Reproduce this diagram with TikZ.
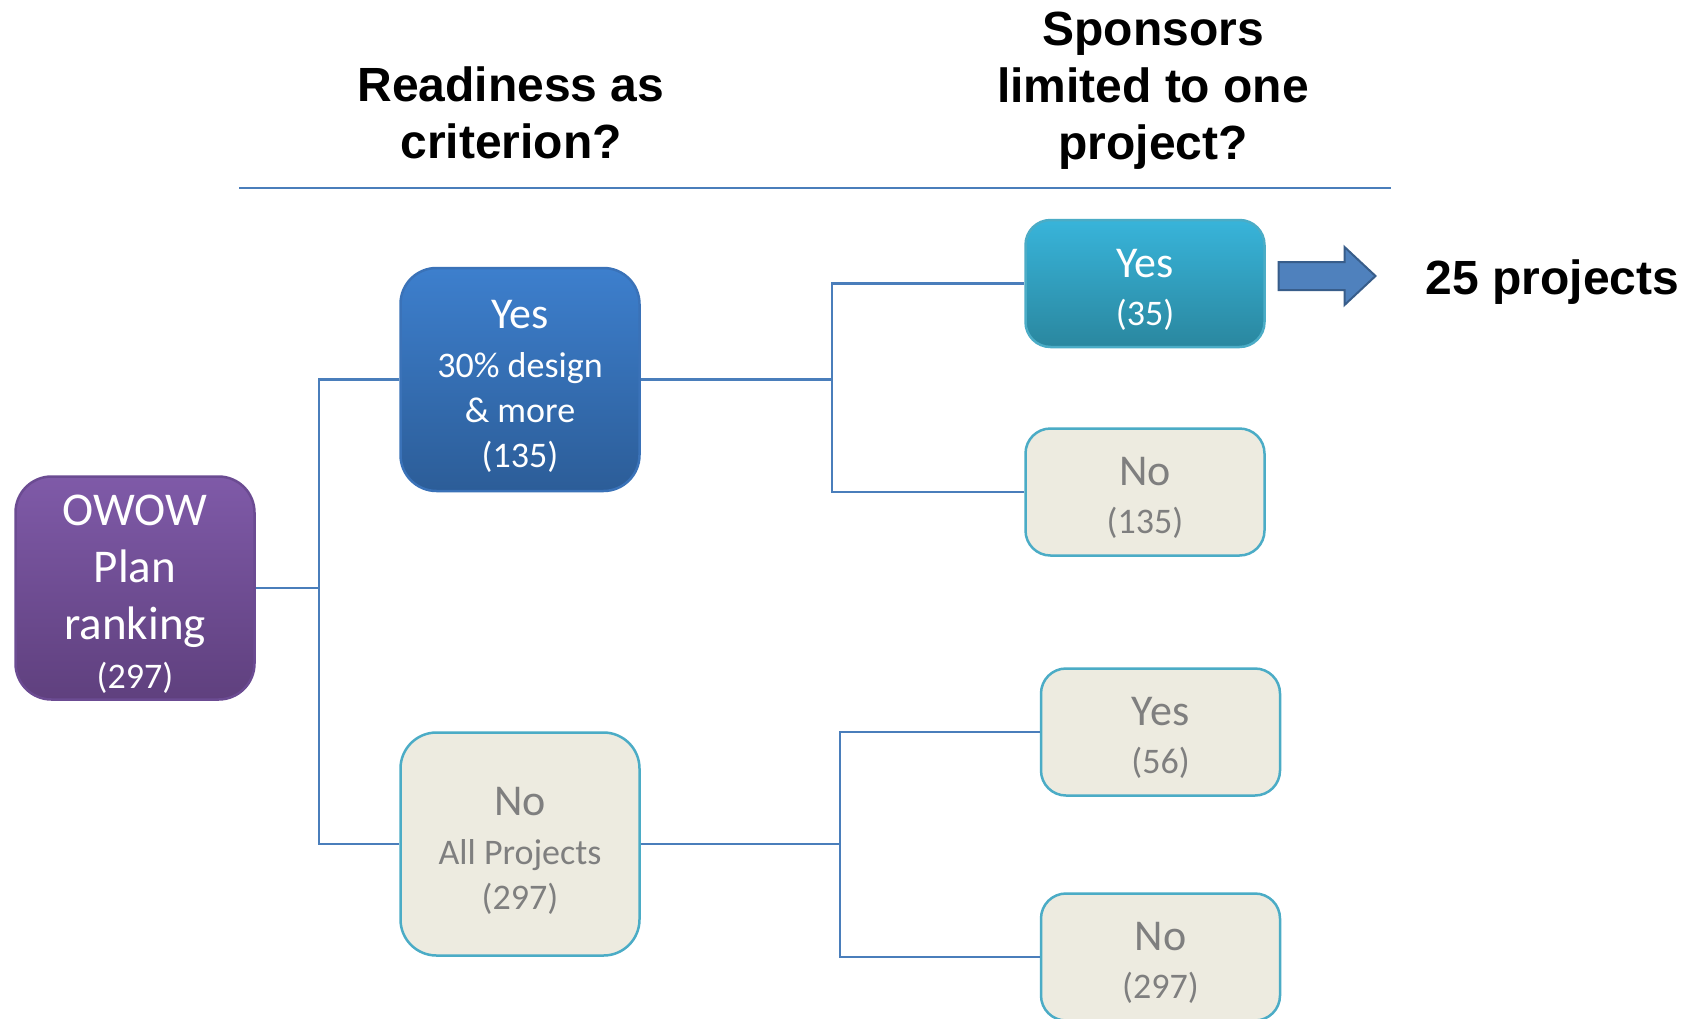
\documentclass[tikz,border=0pt]{standalone}
\usepackage{fontspec}
\setmainfont{Carlito}
\newfontfamily\hdrfont{Liberation Sans}
\definecolor{connBlue}{HTML}{4A7EBB}
\definecolor{purpTop}{HTML}{7F5AA8}
\definecolor{purpBot}{HTML}{5F407E}
\definecolor{purpEdge}{HTML}{6B4B92}
\definecolor{blueTop}{HTML}{3D7FCD}
\definecolor{blueBot}{HTML}{2C5D98}
\definecolor{blueEdge}{HTML}{3A72B8}
\definecolor{cyanTop}{HTML}{38B4DA}
\definecolor{cyanBot}{HTML}{2A879F}
\definecolor{paleFill}{HTML}{EDEBE0}
\definecolor{paleEdge}{HTML}{4BACC6}
\definecolor{paleText}{HTML}{7F7F7F}
\definecolor{arrFill}{HTML}{4F81BD}
\definecolor{arrEdge}{HTML}{385D8A}
\newcommand\bxL{\fontsize{44}{52}\selectfont}
\newcommand\bxS{\fontsize{36}{45}\selectfont}
\newcommand\dnA{\rule{0pt}{40pt}}
\newcommand\dnC{\rule{0pt}{42pt}}
\begin{document}
\begin{tikzpicture}[x=1pt,y=-1pt,
  bigbox/.style={rectangle, draw, line width=2.5pt, rounded corners=36pt, minimum width=239pt, minimum height=223pt, align=center, inner sep=0pt},
  smallbox/.style={rectangle, draw, line width=2.5pt, rounded corners=25pt, minimum width=239pt, minimum height=127pt, align=center, inner sep=0pt},
  pale/.style={fill=paleFill, draw=paleEdge, text=paleText},
  conn/.style={draw=connBlue, line width=2.5pt},
  hdr/.style={align=center, font=\hdrfont\bfseries\fontsize{48}{57}\selectfont, inner sep=0pt}]
\useasboundingbox (0,0) rectangle (1702,1018);
\fill[white] (0,0) rectangle (1702,1018);

% headers
\node[hdr] (h1) at (511,113) {Readiness as\\criterion?};
\node[hdr] (h2) at (1153,91) {Sponsors\\limited to one\\project?};
\coordinate (hl) at (239,188);
\coordinate (hr) at (1391,188);
\draw[conn] (hl) -- (hr);

% boxes
\node[bigbox, top color=purpTop, bottom color=purpBot, draw=purpEdge, text=white,
      font=\fontsize{47}{57}\selectfont] (owow) at (135,588)
      {\dnC OWOW\\Plan\\ranking\\[-8pt]{\bxS (297)}};
\node[bigbox, top color=blueTop, bottom color=blueBot, draw=blueEdge, text=white, font=\bxS]
      (yes1) at (520,379.5) {{\bxL\dnC Yes}\\[4pt]30\% design\\\& more\\(135)};
\node[bigbox, pale, font=\bxS] (no1) at (520,844) {{\bxL\dnC No}\\[4pt]All Projects\\(297)};

\node[smallbox, top color=cyanTop, bottom color=cyanBot, draw=paleEdge, text=white, font=\bxS]
      (yes35) at (1145,283.5) {{\bxL\dnA Yes}\\[3pt](35)};
\node[smallbox, pale, font=\bxS] (no135) at (1145,492) {{\bxL\dnA No}\\[3pt](135)};
\node[smallbox, pale, font=\bxS] (yes56) at (1160.5,732) {{\bxL\dnA Yes}\\[3pt](56)};
\node[smallbox, pale, font=\bxS] (no297) at (1160.5,957) {{\bxL\dnA No}\\[3pt](297)};

% connectors
\coordinate (j1) at (319,588);
\coordinate (j2) at (832,379.5);
\coordinate (j3) at (840,844);
\draw[conn] (owow.east) -- (j1);
\draw[conn] (yes1.west) -| (j1);
\draw[conn] (no1.west) -| (j1);
\draw[conn] (yes1.east) -- (j2);
\draw[conn] (yes35.west) -| (j2);
\draw[conn] (no135.west) -| (j2);
\draw[conn] (no1.east) -- (j3);
\draw[conn] (yes56.west) -| (j3);
\draw[conn] (no297.west) -| (j3);

% arrow and result
\draw[fill=arrFill, draw=arrEdge, line width=2pt, line join=miter]
  (1278.5,262) -- (1344.5,262) -- (1344.5,247) -- (1375.5,276) -- (1344.5,305) -- (1344.5,290) -- (1278.5,290) -- cycle;
\node[anchor=base west, inner sep=0pt, font=\hdrfont\bfseries\fontsize{48}{57}\selectfont] (res) at (1425.5,294) {25 projects};
\end{tikzpicture}
\end{document}
